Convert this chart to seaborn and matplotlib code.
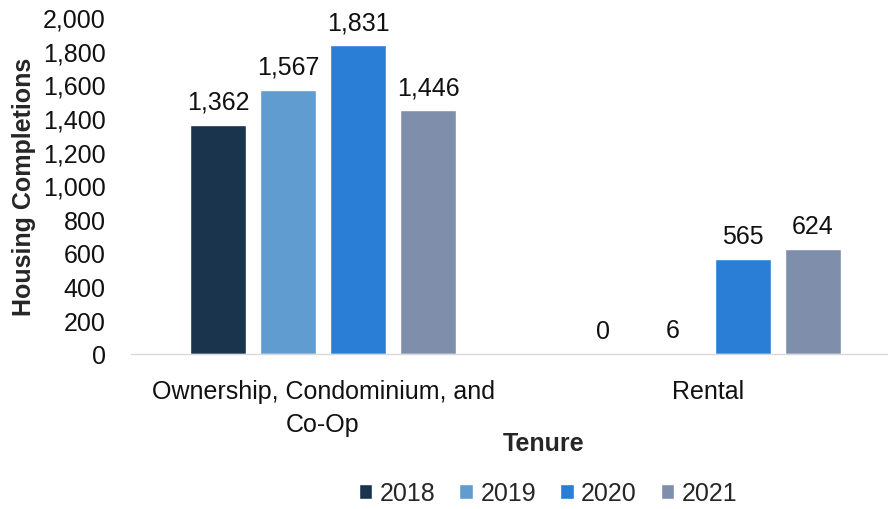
import matplotlib
matplotlib.use("Agg")
import matplotlib.pyplot as plt
import pandas as pd
import seaborn as sns

# data
tenure = ["Ownership, Condominium, and\nCo-Op", "Rental"]
years = ["2018", "2019", "2020", "2021"]
ownership = [1362, 1567, 1831, 1446]
rental = [0, 6, 565, 624]
colors = ["#1B344D", "#609CD0", "#2A7ED6", "#7F8FAB"]

df = pd.DataFrame({
    "Tenure": [tenure[0]] * 4 + [tenure[1]] * 4,
    "Year": years * 2,
    "Completions": ownership + rental,
})

sns.set_style("white")
plt.rcParams["font.family"] = ["Liberation Sans", "DejaVu Sans"]
fs = 18

fig = plt.figure(figsize=(8.88, 5.10), dpi=100)
ax = fig.add_axes([130.5 / 888, 1 - 355 / 510, 770 / 888, 337 / 510])

sns.barplot(data=df, x="Tenure", y="Completions", hue="Year",
            palette=dict(zip(years, colors)), width=0.727, gap=0.2,
            saturation=1, ax=ax)

for c in ax.containers:
    ax.bar_label(c, labels=[f"{v:,.0f}" for v in c.datavalues],
                 padding=8, fontsize=fs, color="#111111")

ax.set_ylim(0, 2000)
ax.set_yticks(range(0, 2001, 200))
ax.set_yticklabels([f"{t:,}" for t in range(0, 2001, 200)])
ax.tick_params(axis="y", length=0, pad=18, labelsize=fs, labelcolor="#111111")
ax.tick_params(axis="x", length=0, pad=18, labelsize=fs, labelcolor="#111111")
for lab in ax.get_xticklabels():
    lab.set_linespacing(1.45)

for s in ["top", "right", "left"]:
    ax.spines[s].set_visible(False)
ax.spines["bottom"].set_color("#D9D9D9")
ax.spines["bottom"].set_linewidth(1.0)

ax.set_ylabel("Housing Completions", fontsize=fs, fontweight="bold")
ax.yaxis.set_label_coords(-0.123, 0.5)
ax.set_xlabel("Tenure", fontsize=fs, fontweight="bold")
ax.xaxis.set_label_coords(0.537, -0.228)

handles, labels = ax.get_legend_handles_labels()
ax.legend(handles, labels, loc="center", bbox_to_anchor=(548 / 888, 16 / 510),
          bbox_transform=fig.transFigure, ncol=4, frameon=False, fontsize=fs,
          handlelength=0.55, handleheight=0.55, handletextpad=0.3,
          columnspacing=0.95)

fig.savefig("out.png", dpi=100)
